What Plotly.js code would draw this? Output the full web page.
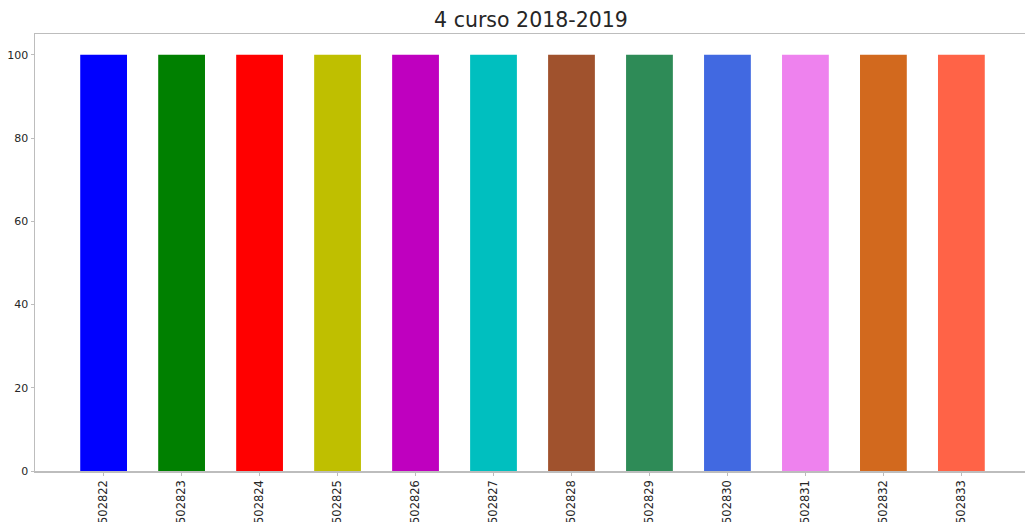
<!DOCTYPE html>
<html>
<head>
<meta charset="utf-8">
<script src="https://cdn.plot.ly/plotly-3.0.1.min.js"></script>
<style>
html,body{margin:0;padding:0;overflow:hidden;background:#fff;width:1025px;height:522px;}
#chart{width:1031px;height:522px;}
</style>
</head>
<body>
<div id="chart"></div>
<script>
const categories = ["502822","502823","502824","502825","502826","502827","502828","502829","502830","502831","502832","502833"];
const values = [100,100,100,100,100,100,100,100,100,100,100,100];
const colors = ["#0000ff","#008000","#ff0000","#bfbf00","#bf00bf","#00bfbf","#a0522d","#2e8b57","#4169e1","#ee82ee","#d2691e","#ff6347"];
const yTicks = [0,20,40,60,80,100];
const titleText = "4 curso 2018-2019";

const trace = {
  type: "bar",
  x: categories,
  y: values,
  width: 0.6,
  marker: {color: colors, line: {width: 0}},
  hoverinfo: "x+y"
};

const layout = {
  width: 1031,
  height: 522,
  margin: {l: 35, r: 1, t: 34, b: 51},
  paper_bgcolor: "#fff",
  plot_bgcolor: "#fff",
  showlegend: false,
  font: {family: "DejaVu Sans", color: "#262626", size: 11},
  title: {text: titleText, x: 0.515, xanchor: "center", y: 0.962, yanchor: "middle",
          font: {family: "DejaVu Sans", size: 20.5, color: "#262626"}},
  xaxis: {
    type: "category",
    range: [-0.88, 11.88],
    tickangle: -90,
    showline: true, mirror: true, linecolor: "#bdbdbd", linewidth: 1.5,
    ticks: "outside", ticklen: 3, tickcolor: "#bdbdbd",
    showgrid: false, zeroline: false,
    tickfont: {family: "DejaVu Sans", size: 11.5, color: "#262626"}
  },
  yaxis: {
    range: [0, 105],
    tickvals: yTicks,
    ticktext: yTicks.map(String),
    showline: true, mirror: true, linecolor: "#bdbdbd", linewidth: 1.5,
    ticks: "outside", ticklen: 3, tickcolor: "#bdbdbd",
    showgrid: false, zeroline: false,
    tickfont: {family: "DejaVu Sans", size: 11, color: "#262626"}
  }
};

Plotly.newPlot("chart", [trace], layout, {displayModeBar: false, staticPlot: true});
</script>
</body>
</html>
